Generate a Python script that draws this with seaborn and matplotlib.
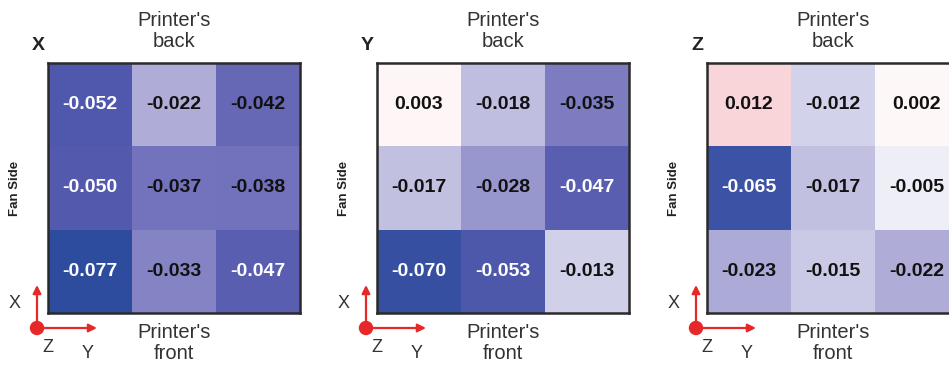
import numpy as np
import pandas as pd
import matplotlib
matplotlib.use("Agg")
import matplotlib.pyplot as plt
from matplotlib.colors import LinearSegmentedColormap
from matplotlib.patches import Circle
import seaborn as sns

# Deviation maps per axis (rows: printer's back -> front, columns left -> right)
panel_names = ["X", "Y", "Z"]
x_values = [[-0.052, -0.022, -0.042],
            [-0.050, -0.037, -0.038],
            [-0.077, -0.033, -0.047]]
y_values = [[0.003, -0.018, -0.035],
            [-0.017, -0.028, -0.047],
            [-0.070, -0.053, -0.013]]
z_values = [[0.012, -0.012, 0.002],
            [-0.065, -0.017, -0.005],
            [-0.023, -0.015, -0.022]]
top_label = "Printer's\nback"
bottom_label = "Printer's\nfront"
side_label = "Fan Side"

W, H = 949, 365
fig = plt.figure(figsize=(W / 100, H / 100), dpi=100)
plt.rcParams["font.family"] = ["Liberation Sans", "DejaVu Sans"]

vmin, vmax = -0.08, 0.08
nodes = [(-0.080, "#2b4b9d"), (-0.065, "#3c52a4"), (-0.050, "#5359ad"),
         (-0.037, "#7473bc"), (-0.022, "#b0aed8"), (-0.012, "#d4d3eb"),
         (0.000, "#ffffff"), (0.012, "#f9d6da"), (0.080, "#d83a3a")]
cmap = LinearSegmentedColormap.from_list(
    "dev", [((v - vmin) / (vmax - vmin), c) for v, c in nodes])

panel_left = [48, 377, 707]
panel_top, size_w, size_h = 63, 252, 250

overlay = fig.add_axes([0, 0, 1, 1], zorder=0)
overlay.set_xlim(0, W)
overlay.set_ylim(H, 0)
overlay.axis("off")
overlay.patch.set_alpha(0)

for name, vals, left in zip(panel_names, [x_values, y_values, z_values], panel_left):
    ax = fig.add_axes([left / W, 1 - (panel_top + size_h) / H, size_w / W, size_h / H], zorder=1)
    df = pd.DataFrame(vals)
    sns.heatmap(df, ax=ax, cmap=cmap, vmin=vmin, vmax=vmax, cbar=False,
                annot=True, fmt=".3f",
                annot_kws={"fontsize": 14, "fontweight": "bold"},
                xticklabels=False, yticklabels=False)
    flat = np.array(vals).ravel()
    for txt, v in zip(ax.texts, flat):
        txt.set_color("white" if v <= -0.045 else "#111111")
    for sp in ax.spines.values():
        sp.set_visible(True)
        sp.set_linewidth(1.8)
        sp.set_color("#2a2a2a")

    cx = left + size_w / 2
    overlay.text(cx, 31, top_label, ha="center", va="center", fontsize=14.5,
                 color="#333333", linespacing=1.15)
    overlay.text(cx, 343, bottom_label, ha="center", va="center", fontsize=14.5,
                 color="#333333", linespacing=1.15)
    overlay.text(left - 10, 45, name, ha="center", va="center", fontsize=14,
                 fontweight="bold", color="#222222")
    overlay.text(left - 33, 188, side_label, ha="center", va="center", fontsize=9.5,
                 fontweight="bold", rotation=90, color="#222222")

    # coordinate triad
    ox, oy = left - 11, 328
    red = "#e62828"
    overlay.annotate("", xy=(ox, oy - 43), xytext=(ox, oy),
                     arrowprops=dict(arrowstyle="-|>", color=red, lw=1.6,
                                     mutation_scale=12, shrinkA=0, shrinkB=0))
    overlay.annotate("", xy=(ox + 60, oy), xytext=(ox, oy),
                     arrowprops=dict(arrowstyle="-|>", color=red, lw=1.6,
                                     mutation_scale=12, shrinkA=0, shrinkB=0))
    overlay.add_patch(Circle((ox, oy), 6.5, color=red, zorder=5))
    overlay.text(ox - 22, 304, "X", ha="center", va="center", fontsize=13, color="#333333")
    overlay.text(ox + 11, 347, "Z", ha="center", va="center", fontsize=13, color="#333333")
    overlay.text(ox + 51, 354, "Y", ha="center", va="center", fontsize=13, color="#333333")

fig.savefig("out.png", dpi=100)
